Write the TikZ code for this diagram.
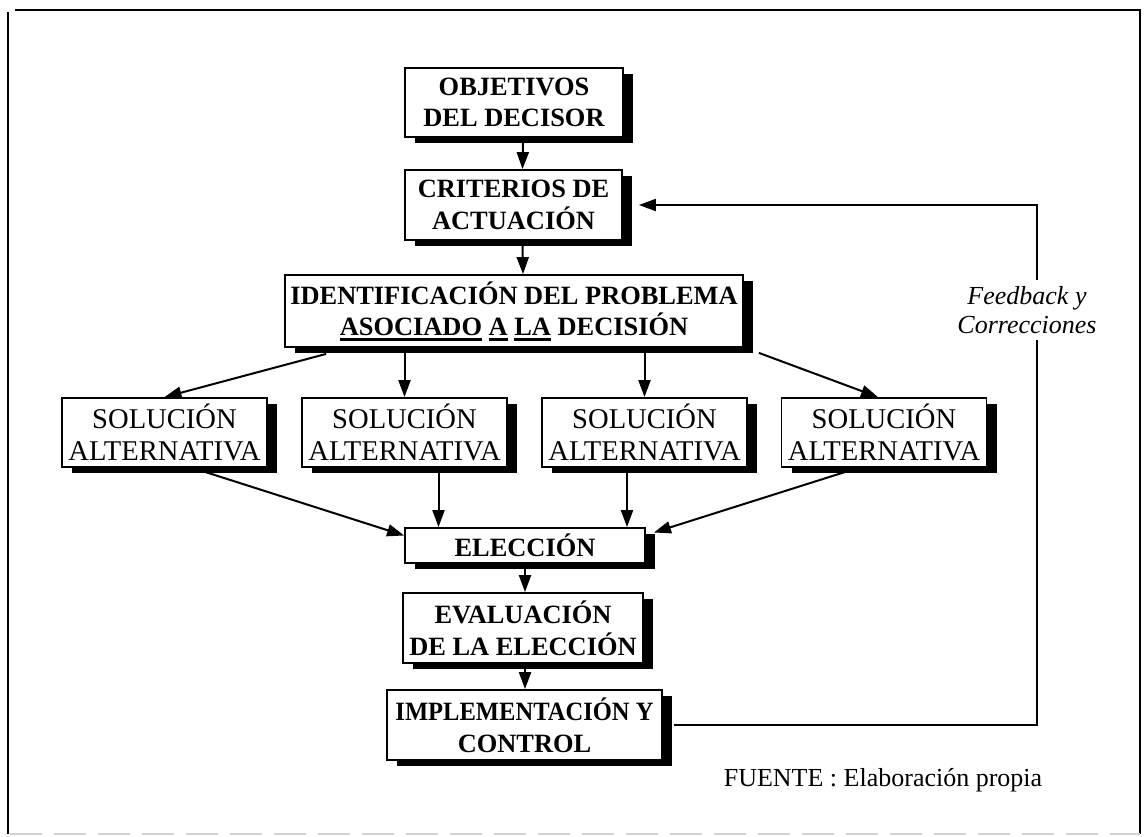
\documentclass[tikz,border=0pt]{standalone}
\usepackage{fontspec}
\setmainfont{Liberation Serif}
\usetikzlibrary{arrows.meta,shadows}
\newcommand\myul[1]{\setbox0\hbox{#1}\rlap{\rule[-2.4pt]{\wd0}{1.1pt}}\box0\relax}
\begin{document}
\begin{tikzpicture}[x=0.5pt,y=-0.5pt,
  box/.style={draw=black, line width=0.9pt, fill=white, align=center, inner sep=0pt,
     drop shadow={shadow xshift=5pt, shadow yshift=-3pt, fill=black, opacity=1}},
  bold/.style={font=\fontsize{13.2}{15.8}\selectfont\bfseries},
  plain/.style={font=\fontsize{14.3}{15.6}\selectfont},
  solbox/.style={box, plain, minimum width=102.5pt, minimum height=34.5pt},
  arr/.style={line width=1pt, -{Triangle[length=8.5pt,width=6pt]}},
  fblabel/.style={font=\fontsize{13}{14.5}\selectfont\itshape, align=center, fill=white, inner sep=3pt},
]
\useasboundingbox (0,0) rectangle (1144,836);
% frame
\draw[line width=1.4pt] (15,10) -- (1141,10);
\draw[line width=1.3pt] (8,12) -- (8,834);
\draw[line width=1pt] (1140,10) -- (1140,834);
\draw[gray!35, line width=1pt, dash pattern=on 16pt off 6pt] (10,834) -- (1140,834);

% nodes
\node[box, bold, minimum width=109pt, minimum height=34.5pt] (obj) at (514,102.5) {OBJETIVOS\\DEL DECISOR};
\node[box, bold, minimum width=108.5pt, minimum height=35pt] (crit) at (513.5,205) {CRITERIOS DE\\ACTUACIÓN};
\node[box, bold, minimum width=229pt, minimum height=36pt] (ident) at (514,311) {IDENTIFICACIÓN DEL PROBLEMA\\\myul{ASOCIADO} \myul{A} \myul{LA} DECISIÓN};
\node[solbox] (s1) at (164.5,432.5) {SOLUCIÓN\\ALTERNATIVA};
\node[solbox] (s2) at (404.5,432.5) {SOLUCIÓN\\ALTERNATIVA};
\node[solbox] (s3) at (644.5,432.5) {SOLUCIÓN\\ALTERNATIVA};
\node[solbox] (s4) at (884,432.5) {SOLUCIÓN\\ALTERNATIVA};
\node[box, bold, minimum width=120pt, minimum height=17.5pt] (elec) at (525,545.5) {ELECCIÓN};
\node[box, bold, minimum width=120pt, minimum height=35pt] (eval) at (523,628) {EVALUACIÓN\\DE LA ELECCIÓN};
\node[box, bold, minimum width=137.5pt, minimum height=35pt] (impl) at (524.5,725) {\scalebox{0.93}[1]{IMPLEMENTACIÓN Y}\\CONTROL};

% arrows
\draw[arr] ([xshift=4.5pt]obj.south) -- ([xshift=4.5pt]crit.north);
\draw[arr] ([xshift=4.5pt]crit.south) -- ([xshift=4.5pt]ident.north);
\draw[arr] ([shift={(21pt,-3pt)}]ident.south west) -- (s1.north);
\draw[arr] (s2.north |- ident.south) -- (s2.north);
\draw[arr] (s3.north |- ident.south) -- (s3.north);
\draw[arr] ([shift={(7.5pt,-2.5pt)}]ident.south east) -- ([xshift=-3pt]s4.north);
\draw[arr] ([xshift=14pt]s1.south) -- ([yshift=5pt]elec.west);
\draw[arr] ([xshift=17pt]s2.south) -- ([xshift=17pt]s2.south |- elec.north);
\draw[arr] ([xshift=-8.75pt]s3.south) -- ([xshift=-8.75pt]s3.south |- elec.north);
\draw[arr] ([xshift=-13pt]s4.south) -- ([shift={(4pt,6.5pt)}]elec.east);
\draw[arr] (elec.south) -- (elec.south |- eval.north);
\draw[arr] ([xshift=1pt]eval.south) -- ([xshift=1pt]eval.south |- impl.north);

% feedback loop
\coordinate (fbx) at (1037,0);
\draw[arr] ([xshift=5.5pt]impl.east) -- (impl.east -| fbx) -- (crit.east -| fbx) -- ([xshift=8pt]crit.east);
\node[fblabel] (fb) at (1027,310) {Feedback y\\Correcciones};

\node[font=\fontsize{13}{15}\selectfont] (src) at (883,780) {FUENTE : Elaboración propia};
\end{tikzpicture}
\end{document}
